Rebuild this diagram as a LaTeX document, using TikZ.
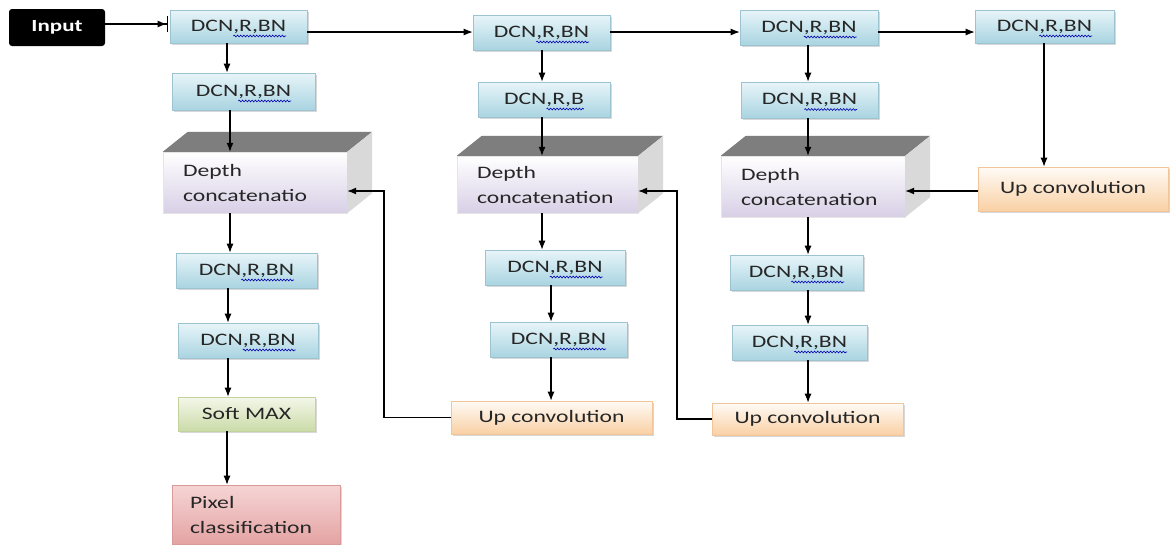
\documentclass[tikz,border=0pt]{standalone}
\usepackage{fontspec}
\setmainfont{Carlito}[FakeStretch=1.35]
\usetikzlibrary{arrows.meta,shadows,calc,decorations.pathmorphing}
\definecolor{bluetop}{HTML}{E8F5F9}
\definecolor{bluebot}{HTML}{A9D4E1}
\definecolor{blueedge}{HTML}{9CC3CF}
\definecolor{orgtop}{HTML}{FFFBF6}
\definecolor{orgbot}{HTML}{F9D0A4}
\definecolor{orgedge}{HTML}{F2C49A}
\definecolor{grntop}{HTML}{F4F7EA}
\definecolor{grnbot}{HTML}{CBDBA8}
\definecolor{grnedge}{HTML}{C3D3A0}
\definecolor{pnktop}{HTML}{F6D5D5}
\definecolor{pnkbot}{HTML}{E4A3A3}
\definecolor{pnkedge}{HTML}{D99A9A}
\definecolor{lav}{HTML}{D8CFE6}
\definecolor{topface}{HTML}{7E7E7E}
\definecolor{sideface}{HTML}{D9D9D9}
\newlength\wAll
\newlength\wPre
\newlength\wShort
\AtBeginDocument{%
  \settowidth\wAll{\fontsize{17.5}{25}\selectfont DCN,R,BN}%
  \settowidth\wPre{\fontsize{17.5}{25}\selectfont DCN}%
  \settowidth\wShort{\fontsize{17.5}{25}\selectfont DCN,R,B}%
}
\tikzset{
  base/.style={rectangle, inner sep=0pt, font=\fontsize{17.5}{25}\selectfont, text=black!85},
  shad/.style={drop shadow={opacity=0.3,shadow xshift=2pt,shadow yshift=-2pt}},
  dcn/.style={base, shad, top color=bluetop, bottom color=bluebot, draw=blueedge, line width=0.6pt},
  upc/.style={base, shad, top color=orgtop, bottom color=orgbot, draw=orgedge, line width=0.6pt},
  smx/.style={base, shad, top color=grntop, bottom color=grnbot, draw=grnedge, line width=0.6pt},
  pix/.style={base, shad, top color=pnktop, bottom color=pnkbot, draw=pnkedge, line width=0.6pt, align=left},
  cubefront/.style={base, top color=white, bottom color=lav, draw=black!10, line width=0.4pt, align=left},
  inbox/.style={base, fill=black, rounded corners=3pt, text=white, font=\fontsize{17}{20}\selectfont\bfseries},
  arr/.style={line width=1.1pt, -{Latex[length=9pt,width=7pt]}},
  wave/.style={decorate, decoration={snake,amplitude=0.9pt,segment length=3.2pt}, draw=blue!70!black, line width=0.6pt},
}
\newcommand\cubetop[1]{%
  \fill[topface] (#1.north west) -- ++(25,-20) -- ($(#1.north east)+(25,-20)$) -- (#1.north east) -- cycle;
  \fill[sideface] (#1.north east) -- ++(25,-20) -- ($(#1.south east)+(25,-20)$) -- (#1.south east) -- cycle;
}
\newcommand\wv[3]{%
  \draw[wave] ([xshift={-0.5*#2+#3},yshift=-9.5pt]#1.center) -- ([xshift={0.5*#2},yshift=-9.5pt]#1.center);
}
\begin{document}
\begin{tikzpicture}[x=1pt,y=-1pt]
\useasboundingbox[fill=white] (0,0) rectangle (1171,544);

% input
\node[inbox, minimum width=96pt, minimum height=37pt] (in) at (57,27.5) {Input};

% column 1
\node[dcn, minimum width=137pt, minimum height=33pt] (A1) at (238.5,26.5) {DCN,R,BN};
\node[dcn, minimum width=143pt, minimum height=37pt] (A2) at (243.5,91.5) {DCN,R,BN};
\node[cubefront, minimum width=184pt, minimum height=61pt, text width=144pt] (K1) at (255,182.5) {Depth\\concatenatio};
\node[dcn, minimum width=141pt, minimum height=35pt] (A3) at (246.5,270.5) {DCN,R,BN};
\node[dcn, minimum width=140pt, minimum height=35pt] (A4) at (248,340.5) {DCN,R,BN};
\node[smx, minimum width=137pt, minimum height=34pt] (SM) at (246.5,414) {Soft MAX};
\node[pix, minimum width=168pt, minimum height=59pt, text width=132pt] (PX) at (256,514.5) {Pixel\\classification};

% column 2
\node[dcn, minimum width=137pt, minimum height=35pt] (B1) at (541.5,32.5) {DCN,R,BN};
\node[dcn, minimum width=132pt, minimum height=35pt] (B2) at (544,99.5) {DCN,R,B};
\node[cubefront, minimum width=181pt, minimum height=57pt, text width=141pt] (K2) at (547.5,184.5) {Depth\\concatenation};
\node[dcn, minimum width=140pt, minimum height=35pt] (B3) at (555,267.5) {DCN,R,BN};
\node[dcn, minimum width=137pt, minimum height=35pt] (B4) at (558.5,339.5) {DCN,R,BN};
\node[upc, minimum width=201pt, minimum height=33pt] (U1) at (551.5,417.5) {Up convolution};

% column 3
\node[dcn, minimum width=138pt, minimum height=35pt] (C1) at (809,27.5) {DCN,R,BN};
\node[dcn, minimum width=137pt, minimum height=36pt] (C2) at (809.5,100) {DCN,R,BN};
\node[cubefront, minimum width=184pt, minimum height=61pt, text width=144pt] (K3) at (813,186.5) {Depth\\concatenation};
\node[dcn, minimum width=133pt, minimum height=35pt] (C3) at (796.5,272.5) {DCN,R,BN};
\node[dcn, minimum width=135pt, minimum height=35pt] (C4) at (799.5,342.5) {DCN,R,BN};
\node[upc, minimum width=191pt, minimum height=32pt] (U2) at (807.5,419) {Up convolution};

% column 4
\node[dcn, minimum width=139pt, minimum height=33pt] (D1) at (1044.5,26.5) {DCN,R,BN};
\node[upc, minimum width=190pt, minimum height=44pt] (U3) at (1073,189) {Up convolution};

\cubetop{K1}
\cubetop{K2}
\cubetop{K3}

% spell-check underlines
\wv{A1}{\wAll}{\wPre}
\wv{A2}{\wAll}{\wPre}
\wv{A3}{\wAll}{\wPre}
\wv{A4}{\wAll}{\wPre}
\wv{B1}{\wAll}{\wPre}
\wv{B2}{\wShort}{\wPre}
\wv{B3}{\wAll}{\wPre}
\wv{B4}{\wAll}{\wPre}
\wv{C1}{\wAll}{\wPre}
\wv{C2}{\wAll}{\wPre}
\wv{C3}{\wAll}{\wPre}
\wv{C4}{\wAll}{\wPre}
\wv{D1}{\wAll}{\wPre}

% helper coordinates
\coordinate (xa) at (227,0);
\coordinate (xb) at (230,0);
\coordinate (xc) at (228,0);
\coordinate (xd) at (542,0);
\coordinate (xe) at (551,0);
\coordinate (xf) at (808,0);
\coordinate (xg) at (1044,0);
\coordinate (yin) at (0,24);
\coordinate (ytop) at (0,32);
\coordinate (fb1) at (384,191);
\coordinate (fb2) at (677,191);

% input arrow
\draw[line width=1.1pt, -{Latex[length=9pt,width=7pt] Bar[width=16pt,sep=2pt]}] (in.east |- yin) -- (A1.west |- yin);

% top row
\draw[arr] (A1.east |- ytop) -- (B1.west |- ytop);
\draw[arr] (B1.east |- ytop) -- (C1.west |- ytop);
\draw[arr] (C1.east |- ytop) -- (D1.west |- ytop);

% column 1
\draw[arr] (A1.south -| xa) -- (A2.north -| xa);
\draw[arr] (A2.south -| xb) -- (K1.north -| xb);
\draw[arr] (K1.south -| xb) -- (A3.north -| xb);
\draw[arr] (A3.south -| xc) -- (A4.north -| xc);
\draw[arr] (A4.south -| xc) -- (SM.north -| xc);
\draw[arr] (SM.south -| xa) -- (PX.north -| xa);

% column 2
\draw[arr] (B1.south -| xd) -- (B2.north -| xd);
\draw[arr] (B2.south -| xd) -- (K2.north -| xd);
\draw[arr] (K2.south -| xd) -- (B3.north -| xd);
\draw[arr] (B3.south -| xe) -- (B4.north -| xe);
\draw[arr] (B4.south -| xe) -- (U1.north -| xe);

% column 3
\draw[arr] (C1.south -| xf) -- (C2.north -| xf);
\draw[arr] (C2.south -| xf) -- (K3.north -| xf);
\draw[arr] (K3.south -| xf) -- (C3.north -| xf);
\draw[arr] (C3.south -| xf) -- (C4.north -| xf);
\draw[arr] (C4.south -| xf) -- (U2.north -| xf);

% column 4
\draw[arr] (D1.south -| xg) -- (U3.north -| xg);

% feedback
\draw[arr] (U1.west) -| (fb1) -- (fb1 -| K1.east);
\draw[arr] (U2.west) -| (fb2) -- (fb2 -| K2.east);
\draw[arr] (U3.west |- fb2) -- (fb2 -| K3.east);
\end{tikzpicture}
\end{document}
